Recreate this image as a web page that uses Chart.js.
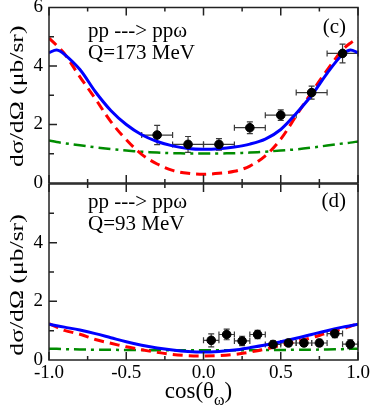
<!DOCTYPE html>
<html lang="en">
<head>
<meta charset="UTF-8">
<title>pp → ppω angular distributions</title>
<style>
    * { margin: 0; padding: 0; box-sizing: border-box; }
    body { width: 374px; height: 409px; background: #ffffff; overflow: hidden; }
    canvas { position: absolute; left: 0; top: 0; }
</style>
</head>
<body>
<canvas id="panel-c" width="374" height="409"></canvas>
<canvas id="panel-d" width="374" height="409"></canvas>
<script src="https://cdn.jsdelivr.net/npm/chart.js@4/dist/chart.umd.min.js"></script>
<script>
    // x grid the model curves were read on
    const curveX = [-1.0, -0.95, -0.9, -0.8, -0.7, -0.6, -0.5, -0.4, -0.3, -0.2, -0.1, 0.0,
                    0.1, 0.2, 0.3, 0.4, 0.5, 0.6, 0.7, 0.8, 0.9, 0.95, 1.0];

    // panel (c), Q = 173 MeV
    const blueC  = [4.45, 4.55, 4.40, 3.88, 3.12, 2.48, 2.00, 1.65, 1.42, 1.27, 1.18, 1.15,
                    1.17, 1.23, 1.33, 1.50, 1.83, 2.38, 3.00, 3.75, 4.40, 4.55, 4.45];
    const redC   = [4.95, 4.70, 4.42, 3.63, 2.88, 2.10, 1.48, 0.98, 0.65, 0.43, 0.33, 0.30,
                    0.33, 0.40, 0.58, 0.93, 1.50, 2.30, 3.10, 3.86, 4.55, 4.78, 4.95];
    const greenC = [1.45, 1.40, 1.36, 1.29, 1.22, 1.16, 1.11, 1.07, 1.04, 1.02, 1.01, 1.01,
                    1.01, 1.02, 1.04, 1.07, 1.11, 1.15, 1.21, 1.28, 1.35, 1.38, 1.42];
    const dataXC = [-0.3, -0.1, 0.1, 0.3, 0.5, 0.7, 0.9];
    const dataYC = [1.64, 1.32, 1.32, 1.89, 2.32, 3.09, 4.43];
    const errXC  = [0.1, 0.1, 0.1, 0.1, 0.1, 0.1, 0.1];
    const errYC  = [0.33, 0.27, 0.20, 0.20, 0.18, 0.22, 0.32];

    // panel (d), Q = 93 MeV
    const blueD  = [1.22, 1.17, 1.12, 1.02, 0.90, 0.76, 0.62, 0.50, 0.41, 0.34, 0.29, 0.27,
                    0.29, 0.34, 0.42, 0.51, 0.62, 0.74, 0.87, 1.00, 1.12, 1.17, 1.22];
    const redD   = [1.24, 1.12, 1.01, 0.88, 0.70, 0.57, 0.45, 0.35, 0.26, 0.19, 0.15, 0.14,
                    0.15, 0.19, 0.27, 0.37, 0.50, 0.63, 0.76, 0.92, 1.06, 1.15, 1.24];
    const greenD = [0.38, 0.38, 0.37, 0.36, 0.35, 0.35, 0.34, 0.34, 0.33, 0.33, 0.33, 0.33,
                    0.33, 0.33, 0.33, 0.34, 0.34, 0.35, 0.35, 0.36, 0.37, 0.38, 0.38];
    const dataXD = [0.05, 0.15, 0.25, 0.35, 0.45, 0.55, 0.65, 0.75, 0.85, 0.95];
    const dataYD = [0.67, 0.87, 0.65, 0.87, 0.53, 0.58, 0.58, 0.58, 0.90, 0.54];
    const errXD  = [0.05, 0.05, 0.05, 0.05, 0.05, 0.05, 0.05, 0.05, 0.05, 0.05];
    const errYD  = [0.22, 0.18, 0.16, 0.14, 0.12, 0.12, 0.12, 0.12, 0.14, 0.15];

    const serif = '"Liberation Serif", "DejaVu Serif", serif';

    const pairs = (xs, ys) => xs.map((x, i) => ({ x: x, y: ys[i] }));

    // frame, inward ticks, error bars and the hand-placed labels
    const decor = {
        id: "decor",
        beforeDatasetsDraw(chart) {
            const ctx = chart.ctx;
            const sx = chart.scales.x, sy = chart.scales.y;
            ctx.save();
            ctx.strokeStyle = "#3a3a3a";
            ctx.lineWidth = 1.2;
            chart.data.datasets.forEach(ds => {
                if (!ds.errX) return;
                ds.data.forEach((p, i) => {
                    const x0 = sx.getPixelForValue(p.x - ds.errX[i]);
                    const x1 = sx.getPixelForValue(p.x + ds.errX[i]);
                    const y0 = sy.getPixelForValue(p.y - ds.errY[i]);
                    const y1 = sy.getPixelForValue(p.y + ds.errY[i]);
                    const px = sx.getPixelForValue(p.x), py = sy.getPixelForValue(p.y);
                    ctx.beginPath();
                    ctx.moveTo(x0, py); ctx.lineTo(x1, py);
                    ctx.moveTo(x0, py - 3); ctx.lineTo(x0, py + 3);
                    ctx.moveTo(x1, py - 3); ctx.lineTo(x1, py + 3);
                    ctx.moveTo(px, y0); ctx.lineTo(px, y1);
                    ctx.moveTo(px - 3, y0); ctx.lineTo(px + 3, y0);
                    ctx.moveTo(px - 3, y1); ctx.lineTo(px + 3, y1);
                    ctx.stroke();
                });
            });
            ctx.restore();
        },
        afterDraw(chart, args, opts) {
            const ctx = chart.ctx;
            const a = chart.chartArea;
            const sx = chart.scales.x, sy = chart.scales.y;
            ctx.save();
            ctx.strokeStyle = "#222222";
            ctx.lineWidth = 1.5;
            ctx.strokeRect(a.left, a.top, a.right - a.left, a.bottom - a.top);
            ctx.beginPath();
            for (let v = -1; v <= 1.001; v += 0.25) {
                const x = sx.getPixelForValue(v);
                const len = Math.abs(v * 2 - Math.round(v * 2)) < 0.01 ? 8 : 4;
                ctx.moveTo(x, a.bottom); ctx.lineTo(x, a.bottom - len);
                ctx.moveTo(x, a.top); ctx.lineTo(x, a.top + len);
            }
            for (let v = 1; v < 6; v++) {
                const y = sy.getPixelForValue(v);
                const len = v % 2 === 0 ? 8 : 5;
                ctx.moveTo(a.left, y); ctx.lineTo(a.left + len, y);
            }
            ctx.stroke();

            ctx.fillStyle = "#000000";
            ctx.textBaseline = "alphabetic";
            ctx.font = "21px " + serif;
            ctx.textAlign = "left";
            ctx.fillText(opts.reaction, a.left + 39, a.top + opts.line1);
            ctx.fillText(opts.energy, a.left + 39, a.top + opts.line2);
            ctx.textAlign = "right";
            ctx.fillText(opts.tag, a.right - 12, a.top + opts.tagLine);

            // y title, drawn a little stretched along its length
            ctx.save();
            ctx.translate(18, (a.top + a.bottom) / 2 + opts.titleShift);
            ctx.rotate(-Math.PI / 2);
            ctx.scale(1.35, 1);
            ctx.font = "19px " + serif;
            ctx.textAlign = "center";
            ctx.textBaseline = "middle";
            ctx.fillText("dσ/dΩ (μb/sr)", 0, 0);
            ctx.restore();

            if (opts.xTitle) {
                const main = "cos(θ";
                ctx.font = "16px " + serif;
                const subW = ctx.measureText("ω").width;
                ctx.font = "23px " + serif;
                const w = ctx.measureText(main).width + subW + ctx.measureText(")").width;
                let x = (a.left + a.right) / 2 - 5 - w / 2;
                const base = 398;
                ctx.textAlign = "left";
                ctx.fillText(main, x, base);
                x += ctx.measureText(main).width;
                ctx.font = "16px " + serif;
                ctx.fillText("ω", x, base + 7);
                x += subW;
                ctx.font = "23px " + serif;
                ctx.fillText(")", x, base);
            }
            ctx.restore();
        }
    };

    function makePanel(id, curves, points, cfg) {
        const datasets = [
            {
                type: "scatter",
                data: pairs(points.x, points.y),
                errX: points.ex,
                errY: points.ey,
                pointRadius: 4.3,
                pointBackgroundColor: "#000000",
                pointBorderColor: "#000000",
                order: 0
            },
            {
                type: "line",
                data: pairs(curveX, curves.blue),
                borderColor: "#0000ff",
                borderWidth: 3,
                pointRadius: 0,
                tension: 0.35,
                order: 1
            },
            {
                type: "line",
                data: pairs(curveX, curves.red),
                borderColor: "#ff0000",
                borderWidth: 3,
                borderDash: [10, 6],
                pointRadius: 0,
                tension: 0.35,
                order: 2
            },
            {
                type: "line",
                data: pairs(curveX, curves.green),
                borderColor: "#008c00",
                borderWidth: 2.5,
                borderDash: [12, 5, 3, 5],
                pointRadius: 0,
                tension: 0.35,
                order: 3
            }
        ];

        return new Chart(document.getElementById(id), {
            type: "scatter",
            data: { datasets: datasets },
            plugins: [decor],
            options: {
                responsive: false,
                animation: false,
                layout: { padding: cfg.padding },
                plugins: {
                    legend: { display: false },
                    tooltip: { enabled: false },
                    decor: cfg.text
                },
                scales: {
                    x: {
                        type: "linear",
                        min: -1,
                        max: 1,
                        grid: { display: false, drawTicks: false },
                        border: { display: false },
                        ticks: {
                            display: cfg.xLabels,
                            stepSize: 0.5,
                            padding: 2,
                            color: "#000000",
                            font: { family: serif, size: 19 },
                            callback: v => v.toFixed(1)
                        },
                        afterFit: s => { s.height = cfg.xHeight; }
                    },
                    y: {
                        min: 0,
                        max: 6,
                        grid: { display: false, drawTicks: false },
                        border: { display: false },
                        ticks: {
                            stepSize: 2,
                            padding: 6,
                            color: "#000000",
                            // small line height so the top label does not push the plot down
                            font: { family: serif, size: 19, lineHeight: 0.15 },
                            callback: v => (cfg.hideTop && v === 6 ? "" : String(v))
                        },
                        afterFit: s => { s.width = 49; }
                    }
                }
            }
        });
    }

    makePanel("panel-c",
        { blue: blueC, red: redC, green: greenC },
        { x: dataXC, y: dataYC, ex: errXC, ey: errYC },
        {
            padding: { left: 0, right: 16, top: 7.5, bottom: 226 },
            xLabels: false,
            xHeight: 0,
            hideTop: false,
            text: { reaction: "pp ---> ppω", energy: "Q=173 MeV", tag: "(c)",
                    line1: 29.5, line2: 51.5, tagLine: 25.5, titleShift: 1, xTitle: false }
        });

    makePanel("panel-d",
        { blue: blueD, red: redD, green: greenD },
        { x: dataXD, y: dataYD, ex: errXD, ey: errYD },
        {
            padding: { left: 0, right: 16, top: 184, bottom: 0 },
            xLabels: true,
            xHeight: 49,
            hideTop: true,
            text: { reaction: "pp ---> ppω", energy: "Q=93 MeV", tag: "(d)",
                    line1: 24, line2: 46, tagLine: 22.5, titleShift: 13, xTitle: true }
        });
</script>
</body>
</html>
